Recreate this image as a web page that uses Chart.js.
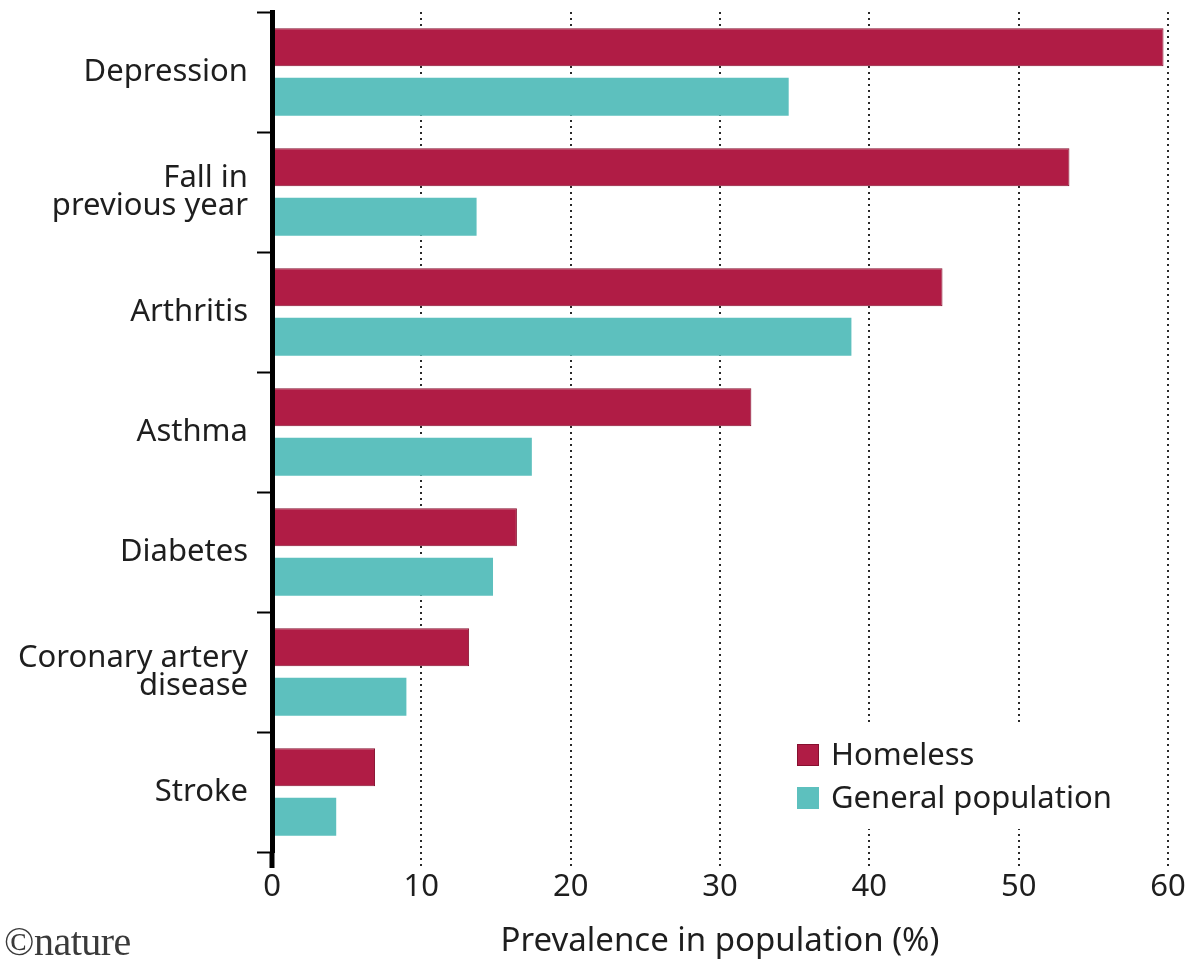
<!DOCTYPE html>
<html>
<head>
<meta charset="utf-8">
<script src="https://cdn.jsdelivr.net/npm/chart.js@4.4.1/dist/chart.umd.min.js"></script>
<style>
  html, body { margin: 0; padding: 0; background: #fff; }
  #wrap { position: relative; width: 1194px; height: 962px; }
  #credit {
    position: absolute; left: 4px; top: 918px;
    font-family: "Liberation Serif", "DejaVu Serif", serif;
    font-size: 40px; color: #3a3a3a; letter-spacing: -0.5px;
  }
</style>
</head>
<body>
<div id="wrap">
  <canvas id="chart" width="1194" height="962"></canvas>
  <div id="credit">©nature</div>
</div>
<script>
/* Prevalence of conditions: homeless vs general population */

const categories = [
  'Depression',
  ['Fall in', 'previous year'],
  'Arthritis',
  'Asthma',
  'Diabetes',
  ['Coronary artery', 'disease'],
  'Stroke',
];
const homeless = [59.7, 53.4, 44.9, 32.1, 16.4, 13.2, 6.9];
const generalPopulation = [34.6, 13.7, 38.8, 17.4, 14.8, 9.0, 4.3];
const xTicks = [0, 10, 20, 30, 40, 50, 60];

const FONT = "'Noto Sans', 'Open Sans', sans-serif";
const TEXT = '#1e1e1e';
const SIZE = 31;

// Legend drawn inside the chart area, with a white box over the grid
const boxLegend = {
  id: 'boxLegend',
  afterDraw(chart) {
    const { ctx, chartArea } = chart;
    const left = chartArea.right - 371;
    const top = chartArea.bottom - 111;
    ctx.save();
    ctx.fillStyle = '#fff';
    ctx.fillRect(left - 12, top - 18, 352, 106);
    ctx.font = SIZE + 'px ' + FONT;
    ctx.textBaseline = 'middle';
    chart.data.datasets.forEach((ds, i) => {
      const y = top + 14 + i * 43;
      ctx.fillStyle = ds.backgroundColor;
      ctx.fillRect(left, y - 11, 22, 22);
      if (ds.borderWidth) {
        ctx.strokeStyle = ds.borderColor;
        ctx.lineWidth = 1;
        ctx.strokeRect(left + 0.5, y - 10.5, 21, 21);
      }
      ctx.fillStyle = TEXT;
      ctx.fillText(ds.label, left + 34, y + 1);
    });
    ctx.restore();
  },
};

new Chart(document.getElementById('chart').getContext('2d'), {
  type: 'bar',
  data: {
    labels: categories,
    datasets: [
      {
        label: 'Homeless',
        data: homeless,
        backgroundColor: '#b01c45',
        borderColor: '#86102f',
        borderWidth: 1,
        borderSkipped: false,
      },
      {
        label: 'General population',
        data: generalPopulation,
        backgroundColor: '#5dc0be',
        borderWidth: 0,
      },
    ],
  },
  options: {
    indexAxis: 'y',
    responsive: false,
    animation: false,
    categoryPercentage: 0.825,
    barPercentage: 0.77,
    layout: { padding: { top: 12, right: 26, bottom: 0, left: 0 } },
    plugins: {
      legend: { display: false },
      tooltip: { enabled: false },
    },
    scales: {
      x: {
        type: 'linear',
        min: 0,
        max: 60,
        afterBuildTicks: (scale) => { scale.ticks = xTicks.map(v => ({ value: v })); },
        afterFit: (scale) => { scale.height = 110; },
        grid: {
          color: (c) => (c.index === 0 ? '#000' : '#2a2a2a'),
          lineWidth: (c) => (c.index === 0 ? 0 : 2),
          tickLength: 16,
          tickColor: (c) => (c.index === 0 ? '#000' : '#2a2a2a'),
          tickWidth: (c) => (c.index === 0 ? 5 : 2),
          tickBorderDash: (c) => (c.index === 0 ? [] : [2, 4]),
        },
        border: { display: false, dash: [2, 4] },
        ticks: {
          color: TEXT,
          padding: 1,
          maxRotation: 0,
          font: { family: FONT, size: SIZE },
        },
        title: {
          display: true,
          text: 'Prevalence in population (%)',
          color: TEXT,
          font: { family: FONT, size: 33 },
          padding: { top: 0, bottom: 1 },
        },
      },
      y: {
        afterFit: (scale) => {
          scale.width = 272;
          // labels sit inside their bands, no extra room above/below
          scale.paddingTop = 0;
          scale.paddingBottom = 0;
        },
        grid: {
          drawOnChartArea: false,
          drawTicks: true,
          tickLength: 15,
          tickColor: '#000',
          tickWidth: 2,
        },
        border: { display: true, color: '#000', width: 5, z: 1 },
        ticks: {
          color: TEXT,
          padding: 9,
          font: { family: FONT, size: SIZE, lineHeight: 0.9 },
        },
      },
    },
  },
  plugins: [boxLegend],
});
</script>
</body>
</html>
